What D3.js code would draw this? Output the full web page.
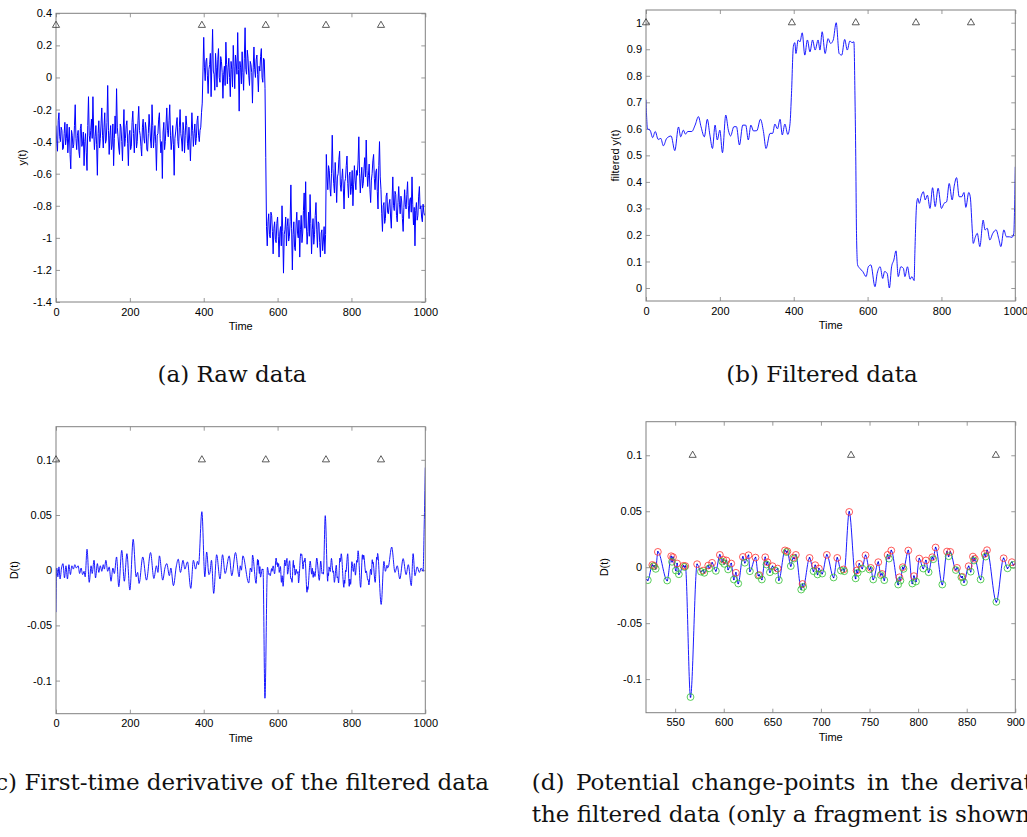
<!DOCTYPE html>
<html><head><meta charset="utf-8">
<script src="https://cdn.jsdelivr.net/npm/d3@7"></script>
<style>
body{margin:0;background:#fff}
svg{display:block}
.tick text,.lab{font-family:"Liberation Sans",Arial,Helvetica,sans-serif;font-size:11px;fill:#000}
.cap{font-family:"DejaVu Serif",serif;font-size:23px;fill:#111}
</style>
</head><body>
<svg id="fig" width="1027" height="837"></svg>
<script>
// ---------------- data ----------------
const rawStep = 2; // raw samples every 2 time units, starting at 0
const rawY = [
// t = 0 .. 394
-0.30,-0.41,-0.46,-0.27,-0.22,-0.37,-0.40,-0.31,-0.33,-0.45,-0.44,-0.35,-0.28,-0.42,-0.38,-0.29,-0.47,-0.39,-0.31,-0.48,
-0.57,-0.33,-0.36,-0.44,-0.42,-0.30,-0.17,-0.38,-0.45,-0.36,-0.33,-0.46,-0.50,-0.32,-0.29,-0.43,-0.41,-0.34,-0.55,-0.40,
-0.35,-0.47,-0.58,-0.30,-0.12,-0.36,-0.40,-0.33,-0.26,-0.38,-0.12,-0.34,-0.45,-0.37,-0.30,-0.42,-0.61,-0.35,-0.27,-0.44,
-0.38,-0.29,-0.19,-0.36,-0.44,-0.31,-0.22,-0.41,-0.39,-0.28,-0.05,-0.33,-0.48,-0.36,-0.30,-0.45,-0.42,-0.29,-0.55,-0.38,
-0.24,-0.35,-0.07,-0.31,-0.37,-0.44,-0.48,-0.29,-0.31,-0.40,-0.52,-0.34,-0.20,-0.43,-0.38,-0.30,-0.27,-0.41,-0.55,-0.36,
-0.33,-0.45,-0.43,-0.28,-0.21,-0.35,-0.47,-0.34,-0.29,-0.44,-0.40,-0.27,-0.18,-0.33,-0.36,-0.43,-0.49,-0.31,-0.26,-0.38,
-0.41,-0.28,-0.32,-0.45,-0.46,-0.35,-0.23,-0.31,-0.39,-0.44,-0.17,-0.30,-0.44,-0.37,-0.30,-0.41,-0.58,-0.36,-0.35,-0.26,
-0.22,-0.38,-0.47,-0.40,-0.63,-0.34,-0.28,-0.45,-0.40,-0.29,-0.19,-0.33,-0.37,-0.27,-0.17,-0.36,-0.45,-0.39,-0.30,-0.42,
-0.61,-0.38,-0.34,-0.29,-0.25,-0.40,-0.44,-0.31,-0.20,-0.35,-0.39,-0.46,-0.28,-0.33,-0.47,-0.36,-0.24,-0.30,-0.41,-0.45,
-0.31,-0.39,-0.52,-0.37,-0.22,-0.33,-0.43,-0.35,-0.29,-0.42,-0.38,-0.27,-0.24,-0.36,-0.40,-0.33,-0.31,-0.22,
// t = 396 .. 566
-0.16,0.04,0.25,0.06,-0.02,0.10,0.12,0.01,-0.10,0.05,0.08,0.15,-0.12,0.09,0.30,0.04,0.02,-0.08,0.15,0.06,
-0.06,0.11,0.18,0.00,-0.03,0.13,0.10,0.03,-0.13,0.02,0.07,-0.05,0.22,0.08,-0.04,0.06,0.12,0.00,-0.12,0.10,
0.05,-0.06,0.20,0.07,-0.07,0.14,0.09,0.02,0.28,0.05,-0.21,0.10,0.06,-0.04,0.16,0.03,-0.08,0.12,0.31,0.05,
0.02,0.17,0.12,0.01,-0.05,0.10,0.08,0.03,-0.16,0.06,0.19,0.05,0.00,0.11,0.14,0.02,-0.09,0.07,0.04,0.13,
0.18,0.00,-0.03,0.12,0.11,-0.07,
// t = 568 .. 730
-0.50,-0.93,-1.05,-0.90,-0.85,-0.98,-1.00,-0.84,-0.86,-0.96,-1.10,-0.94,-0.90,-1.01,-1.03,-0.91,-0.87,-0.99,-1.12,-0.97,
-0.93,-1.05,-0.80,-0.96,-1.22,-0.98,-0.95,-0.87,-1.05,-0.93,-0.88,-1.02,-0.99,-0.90,-0.67,-0.94,-1.20,-0.98,-0.90,-1.06,
-1.08,-0.92,-0.84,-0.97,-1.00,-0.89,-1.12,-0.95,-0.86,-1.03,-0.97,-0.83,-0.72,-0.94,-0.65,-0.92,-1.04,-0.96,-0.84,-0.99,
-0.73,-0.91,-1.10,-0.95,-0.88,-1.04,-0.98,-0.86,-0.78,-0.95,-1.06,-0.90,-0.91,-1.03,-1.12,-0.97,-0.95,-1.08,-1.02,-0.93,
-1.10,-0.98,
// t = 732 .. 878
-0.48,-0.62,-0.70,-0.55,-0.58,-0.69,-0.74,-0.60,-0.36,-0.57,-0.66,-0.72,-0.53,-0.64,-0.78,-0.62,-0.60,-0.51,-0.46,-0.67,
-0.71,-0.63,-0.57,-0.69,-0.82,-0.65,-0.63,-0.55,-0.49,-0.66,-0.75,-0.61,-0.59,-0.73,-0.68,-0.58,-0.80,-0.67,-0.55,-0.64,
-0.70,-0.58,-0.61,-0.52,-0.37,-0.60,-0.72,-0.63,-0.56,-0.69,-0.66,-0.57,-0.50,-0.62,-0.39,-0.58,-0.68,-0.61,-0.54,-0.70,
-0.78,-0.64,-0.60,-0.52,-0.48,-0.63,-0.70,-0.59,-0.57,-0.71,-0.82,-0.55,-0.40,-0.62,
// t = 880 .. 998
-0.70,-0.85,-0.96,-0.80,-0.78,-0.91,-0.88,-0.74,-0.72,-0.84,-0.85,-0.79,-0.76,-0.87,-0.94,-0.77,-0.62,-0.80,-0.83,-0.71,
-0.73,-0.86,-0.90,-0.78,-0.68,-0.79,-0.85,-0.74,-0.77,-0.88,-0.96,-0.81,-0.70,-0.79,-0.82,-0.73,-0.65,-0.80,-0.88,-0.76,
-0.75,-0.84,-0.62,-0.79,-0.92,-0.81,-1.05,-0.83,-0.78,-0.89,-0.86,-0.74,-0.68,-0.82,-0.80,-0.87,-0.90,-0.79,-0.84,-0.86
];

const filtT = [0,4,11,18,25,33,40,47,56,68,78,88,94,101,107,113,124,133,142,149,158,166,173,180,187,193,200,207,216,223,229,238,245,253,262,270,277,284,291,300,310,318,325,336,343,349,356,363,369,376,384,390,394,399,403,406,412,417,423,430,437,444,451,458,466,471,477,485,493,500,507,515,523,530,538,545,552,558,563,566,568,570,573,579,587,596,602,609,620,626,634,641,646,653,659,665,671,677,683,690,697,701,708,715,720,726,728,733,736,740,746,751,756,762,769,776,783,791,800,807,814,821,829,835,841,848,855,861,866,874,878,884,886,892,897,904,913,918,924,931,939,948,955,961,969,976,984,991,996,998,1000];
const filtV = [0.71,0.60,0.595,0.567,0.59,0.56,0.564,0.536,0.564,0.573,0.518,0.607,0.57,0.595,0.58,0.59,0.59,0.614,0.646,0.608,0.57,0.636,0.577,0.526,0.614,0.558,0.595,0.51,0.652,0.595,0.573,0.608,0.608,0.539,0.614,0.614,0.558,0.614,0.592,0.593,0.636,0.59,0.526,0.583,0.583,0.618,0.60,0.636,0.577,0.618,0.579,0.62,0.734,0.91,0.925,0.884,0.935,0.928,0.962,0.878,0.935,0.89,0.935,0.897,0.935,0.897,0.966,0.884,0.94,0.922,0.935,1.0,0.884,0.878,0.937,0.897,0.931,0.925,0.928,0.709,0.495,0.206,0.087,0.074,0.062,0.043,0.08,0.087,0.005,0.055,0.08,0.036,0.062,0.055,0.0,0.08,0.105,0.14,0.043,0.08,0.074,0.043,0.08,0.033,0.043,0.028,0.13,0.32,0.338,0.319,0.35,0.363,0.332,0.35,0.30,0.378,0.307,0.376,0.30,0.319,0.325,0.394,0.332,0.388,0.416,0.344,0.344,0.36,0.304,0.36,0.344,0.206,0.168,0.193,0.206,0.156,0.256,0.219,0.225,0.181,0.206,0.219,0.187,0.156,0.219,0.193,0.193,0.191,0.206,0.30,0.457];

const derivT = [0,2,5,8,11,15,19,23,27,31,35,39,43,47,51,55,60,64,68,72,76,79,84,90,95,98,103,107,112,116,120,124,128,131,135,140,144,149,154,158,164,170,178,185,192,200,209,217,221,225,235,245,256,265,272,276,280,289,295,300,307,311,318,326,331,337,344,349,356,365,372,378,383,386,395,403,408,414,417,421,427,435,444,451,458,469,476,486,496,499,502,506,
521.9,526.5,527.5,528.5,530,532.2,541.8,545.9,546.8,547.8,550.7,552,553.8,558.5,559.5,560.5,565.8,572.6,576.5,578.8,580,584,585,588,591.9,596,598.5,599.4,600.5,602.8,604.5,607.7,610.4,612.5,614.9,619.7,621.7,625.5,626.9,632.7,635.6,636.5,639.2,642.7,644,645,647.5,650.2,653,655.4,656.7,663,664.5,665.5,669,671.5,672.5,674.2,679.7,681.1,681.8,688.3,692.4,694.1,696.5,697.9,701.3,706.1,713,716.8,720.5,723.3,724,729.1,735.7,736.7,737.8,739.4,742.5,745.9,750,751.2,753.8,759,761.5,762.8,765.2,768.6,770,772.4,779.5,780.8,781.8,784.2,785,789.9,794,795.7,797.8,801.2,805.3,808,810.8,814.6,815.6,818,824.9,829.7,831.4,833.1,838.8,840,844.5,845.5,847.2,852,854.1,856.4,857.5,858.3,864.3,868.5,869.5,870.9,880.5,888,892,896.5,898,900,
909,918,924,931,940,948,954,962,967,972,978,984,989,994,997,1000];
const derivV = [-0.038,0.002,-0.006,0.003,-0.008,0.002,0.006,-0.007,0.004,-0.008,0.005,-0.004,0.004,0.001,0.005,0.002,0.004,-0.003,0.002,-0.004,-0.001,-0.006,0.019,-0.011,0.004,-0.003,0.009,-0.007,0.006,-0.002,0.004,-0.001,0.005,0.001,0.009,-0.001,0.003,-0.010,0.002,-0.003,0.012,-0.015,0.018,-0.010,0.015,-0.018,0.028,-0.006,-0.002,-0.012,0.012,-0.009,0.016,-0.0075,0.004,-0.002,0.013,-0.009,0.002,0.006,-0.005,0.002,-0.014,0.004,0.010,-0.002,0.009,0.001,0.0075,-0.0165,0.009,0.001,0.008,0.005,0.053,-0.006,0.0165,-0.004,-0.002,0.009,-0.021,0.014,-0.008,0.014,-0.003,0.013,-0.005,0.016,-0.006,0.004,0.0,0.013,
-0.0116,0.002,0.0008,0.0012,-0.0015,0.0137,-0.0119,0.0098,0.0048,0.009,-0.003,0.0033,-0.0063,0.0012,0.0002,0.001,-0.116,0.0027,-0.004,-0.003,-0.005,0.0015,-0.001,0.0039,-0.0033,0.011,0.005,0.0068,0.003,0.006,-0.002,0.0033,-0.011,-0.005,-0.0146,0.0092,0.004,0.0107,-0.0036,0.0086,-0.0075,-0.007,-0.011,0.0089,0.0024,0.0045,-0.0045,0.0009,-0.003,-0.0012,-0.0116,0.015,0.0135,0.0142,0.001,0.0085,0.0077,0.011,-0.020,-0.015,-0.0176,0.0083,-0.0036,0.0018,-0.0065,-0.0012,-0.0057,0.011,-0.0092,0.0083,-0.003,-0.002,-0.0036,0.0494,-0.010,-0.003,-0.005,0.003,-0.0012,0.0107,-0.002,-0.0006,-0.011,0.0045,-0.007,-0.006,-0.0116,0.011,0.0077,0.0149,-0.0155,-0.009,-0.012,0.0,-0.0015,0.0149,-0.0146,-0.008,-0.0128,0.0077,-0.0012,0.006,-0.0045,0.0089,0.0071,0.0176,-0.0155,0.014,0.0098,0.0137,-0.0025,-0.0006,-0.009,-0.0086,-0.0134,0.0009,-0.004,0.0095,0.006,0.0075,-0.011,0.0119,0.0095,0.0152,-0.031,0.008,-0.001,0.0045,0.002,0.003,
0.021,-0.002,0.004,-0.008,0.0105,-0.004,0.005,-0.014,0.015,-0.005,0.003,-0.002,0.002,-0.001,0.04,0.093];

const changePoints = [0,395,568,731,880];
const markerLevel = {a:0.325, b:1.0, c:0.1, d:0.1};

const ticksA = [-1.4,-1.2,-1,-0.8,-0.6,-0.4,-0.2,0,0.2,0.4];
const ticksB = [0,0.1,0.2,0.3,0.4,0.5,0.6,0.7,0.8,0.9,1];
const ticksCD = [-0.1,-0.05,0,0.05,0.1];
const ticksTime = [0,200,400,600,800,1000];
const ticksFrag = [550,600,650,700,750,800,850,900];

// ---------------- drawing ----------------
const svg = d3.select("#fig");
const fmt = d => String(+d.toFixed(3));
let clipId = 0;

function panel(o){
  const x = d3.scaleLinear().domain(o.xd).range([o.x0,o.x1]);
  const y = d3.scaleLinear().domain(o.yd).range([o.y1,o.y0]);
  const g = svg.append("g");
  const id = "clip"+(clipId++);
  g.append("clipPath").attr("id",id).append("rect")
    .attr("x",o.x0).attr("y",o.y0).attr("width",o.x1-o.x0).attr("height",o.y1-o.y0);

  const axStyle = sel => { sel.select(".domain").remove();
    sel.selectAll(".tick line").attr("stroke","#808080").attr("stroke-width",0.8); };
  g.append("g").attr("transform",`translate(${o.x0},0)`)
    .call(d3.axisLeft(y).tickValues(o.yt).tickSize(-4).tickPadding(4).tickFormat(fmt)).call(axStyle);
  g.append("g").attr("transform",`translate(${o.x1},0)`)
    .call(d3.axisRight(y).tickValues(o.yt).tickSize(-4).tickFormat("")).call(axStyle);
  g.append("g").attr("transform",`translate(0,${o.y1})`)
    .call(d3.axisBottom(x).tickValues(o.xt).tickSize(-4).tickPadding(6).tickFormat(fmt)).call(axStyle);
  g.append("g").attr("transform",`translate(0,${o.y0})`)
    .call(d3.axisTop(x).tickValues(o.xt).tickSize(-4).tickFormat("")).call(axStyle);
  g.selectAll(".tick text").attr("fill","#000").attr("font-size",11)
    .attr("font-family","Liberation Sans, Arial, sans-serif");

  const plot = g.append("g").attr("clip-path",`url(#${id})`);
  o.draw(plot,x,y);

  g.append("rect").attr("x",o.x0).attr("y",o.y0).attr("width",o.x1-o.x0).attr("height",o.y1-o.y0)
    .attr("fill","none").attr("stroke","#808080").attr("stroke-width",1);

  // change-point markers
  const tri = d3.symbol().type(d3.symbolTriangle).size(22);
  g.append("g").selectAll("path").data(changePoints.filter(t=>t>=o.xd[0]&&t<=o.xd[1])).join("path")
    .attr("d",tri).attr("transform",t=>`translate(${x(t)},${y(o.mark)})`)
    .attr("fill","none").attr("stroke","#333").attr("stroke-width",0.8);

  g.append("text").attr("class","lab").attr("text-anchor","middle")
    .attr("x",(o.x0+o.x1)/2).attr("y",o.y1+28).text("Time");
  g.append("text").attr("class","lab").attr("text-anchor","middle")
    .attr("transform",`translate(${o.ylx},${(o.y0+o.y1)/2}) rotate(-90)`).text(o.ylabel);
}

panel({x0:56,x1:425.3,y0:13.3,y1:302,xd:[0,1000],yd:[-1.4,0.4],xt:ticksTime,yt:ticksA,
  mark:markerLevel.a, ylabel:"y(t)", ylx:26,
  draw:(p,x,y)=>{
    p.append("path").datum(rawY).attr("fill","none").attr("stroke","#0000ff").attr("stroke-width",1)
     .attr("d",d3.line().x((d,i)=>x(i*rawStep)).y(d=>y(d)));
  }});

panel({x0:646,x1:1015.3,y0:10,y1:301,xd:[0,1000],yd:[-0.049,1.048],xt:ticksTime,yt:ticksB,
  mark:markerLevel.b, ylabel:"filtered y(t)", ylx:619,
  draw:(p,x,y)=>{
    p.append("path").datum(filtT.map((t,i)=>[t,filtV[i]])).attr("fill","none").attr("stroke","#0000ff").attr("stroke-width",0.9)
     .attr("d",d3.line().curve(d3.curveMonotoneX).x(d=>x(d[0])).y(d=>y(d[1])));
  }});

const derivPts = derivT.map((t,i)=>[t,derivV[i]]);

panel({x0:56,x1:425.3,y0:426.7,y1:713.7,xd:[0,1000],yd:[-0.13,0.13],xt:ticksTime,yt:ticksCD,
  mark:markerLevel.c, ylabel:"D(t)", ylx:18,
  draw:(p,x,y)=>{
    p.append("path").datum(derivPts).attr("fill","none").attr("stroke","#0000ff").attr("stroke-width",0.9)
     .attr("d",d3.line().curve(d3.curveMonotoneX).x(d=>x(d[0])).y(d=>y(d[1])));
  }});

// local extrema of the derivative inside the shown fragment
const maxima=[], minima=[];
for(let i=1;i<derivT.length-1;i++){
  if(derivT[i]<520||derivT[i]>900) continue;
  const a=derivV[i-1], b=derivV[i], c=derivV[i+1];
  if(b>a && b>=c) maxima.push(derivPts[i]);
  else if(b<a && b<=c) minima.push(derivPts[i]);
}

panel({x0:646,x1:1015.3,y0:421.7,y1:712.7,xd:[520,900],yd:[-0.13,0.13],xt:ticksFrag,yt:ticksCD,
  mark:markerLevel.d, ylabel:"D(t)", ylx:608,
  draw:(p,x,y)=>{
    p.append("path").datum(derivPts).attr("fill","none").attr("stroke","#0000ff").attr("stroke-width",0.9)
     .attr("d",d3.line().curve(d3.curveMonotoneX).x(d=>x(d[0])).y(d=>y(d[1])));
    p.append("g").selectAll("circle").data(derivPts.filter(d=>d[0]>=520&&d[0]<=900)).join("circle")
     .attr("cx",d=>x(d[0])).attr("cy",d=>y(d[1])).attr("r",0.8).attr("fill","#0000cc");
    p.append("g").selectAll("circle").data(maxima).join("circle")
     .attr("cx",d=>x(d[0])).attr("cy",d=>y(d[1])).attr("r",3.4)
     .attr("fill","none").attr("stroke","#ff3030").attr("stroke-width",0.8);
    p.append("g").selectAll("circle").data(minima).join("circle")
     .attr("cx",d=>x(d[0])).attr("cy",d=>y(d[1])).attr("r",3.4)
     .attr("fill","none").attr("stroke","#30c030").attr("stroke-width",0.8);
  }});

// captions
svg.append("text").attr("class","cap").attr("text-anchor","middle").attr("x",232).attr("y",382).text("(a) Raw data");
svg.append("text").attr("class","cap").attr("text-anchor","middle").attr("x",822).attr("y",382).text("(b) Filtered data");
svg.append("text").attr("class","cap").attr("text-anchor","end").attr("x",489).attr("y",790).text("(c) First-time derivative of the filtered data");
svg.append("text").attr("class","cap").attr("x",531.7).attr("y",790).attr("word-spacing","4.3px").text("(d) Potential change-points in the derivative of");
svg.append("text").attr("class","cap").attr("x",531.7).attr("y",822).text("the filtered data (only a fragment is shown)");
</script>
</body></html>
